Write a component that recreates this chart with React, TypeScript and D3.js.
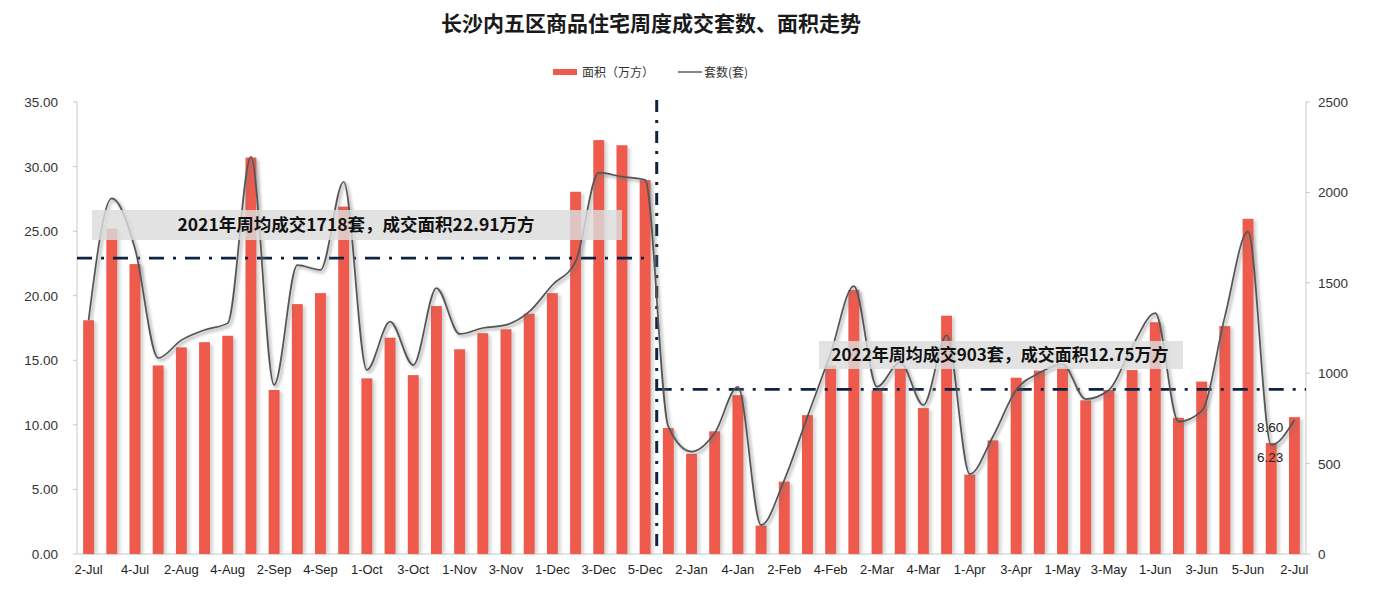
import React from "react";
import * as d3 from "d3";

// 53 weeks, labels shown every other week
const categories = [
  "2-Jul","3-Jul","4-Jul","1-Aug","2-Aug","3-Aug","4-Aug","1-Sep","2-Sep","3-Sep","4-Sep","5-Sep","1-Oct","2-Oct","3-Oct","4-Oct","1-Nov","2-Nov","3-Nov","4-Nov","1-Dec","2-Dec","3-Dec","4-Dec","5-Dec",
  "1-Jan","2-Jan","3-Jan","4-Jan","1-Feb","2-Feb","3-Feb","4-Feb","1-Mar","2-Mar","3-Mar","4-Mar","5-Mar","1-Apr","2-Apr","3-Apr","4-Apr","1-May","2-May","3-May","4-May","1-Jun","2-Jun","3-Jun","4-Jun","5-Jun","1-Jul","2-Jul"
];
const areaValues = [
  18.1, 25.2, 22.45, 14.6, 16.0, 16.4, 16.9, 30.7, 12.7, 19.35,
  20.2, 26.9, 13.6, 16.75, 13.85, 19.2, 15.85, 17.1, 17.4, 18.6,
  20.2, 28.05, 32.05, 31.65, 28.95, 9.75, 7.75, 9.5, 12.3, 2.2,
  5.6, 10.75, 14.6, 20.45, 12.65, 14.4, 11.3, 18.45, 6.15, 8.8,
  13.65, 14.2, 14.5, 11.9, 12.7, 14.25, 17.95, 10.55, 13.35, 17.65,
  25.95, 8.6, 10.6
];
const countValues = [
  1294, 1967, 1690, 1084, 1183, 1239, 1277, 2197, 935, 1598,
  1571, 2059, 1018, 1285, 1045, 1471, 1217, 1250, 1267, 1340,
  1488, 1617, 2109, 2087, 2069, 704, 566, 669, 925, 160,
  409, 760, 1110, 1482, 925, 1060, 824, 1210, 442, 650,
  907, 1001, 1050, 857, 907, 1147, 1332, 732, 790, 1313,
  1783, 603, 741
];
const leftTicks = [0, 5, 10, 15, 20, 25, 30, 35];
const rightTicks = [0, 500, 1000, 1500, 2000, 2500];
const avg2021Area = 22.91;
const avg2022Area = 12.75;
const splitIndex = 25; // first week of 2022
const title = "长沙内五区商品住宅周度成交套数、面积走势";
const legendArea = "面积（万方）";
const legendCount = "套数(套)";
const note2021 = "2021年周均成交1718套，成交面积22.91万方";
const note2022 = "2022年周均成交903套，成交面积12.75万方";
const extraLabels = ["8.60", "6.23"];

const W = 1386, H = 594;
const M = { left: 77, right: 1306, top: 102, bottom: 554 };
const CJK = "'Noto Sans CJK SC', 'Noto Sans', sans-serif";
const LAT = "'Liberation Sans', Arial, sans-serif";

export default function App() {
  const idx = categories.map((_, i) => String(i));
  const x = d3.scaleBand<string>().domain(idx).range([M.left, M.right]).paddingInner(0).paddingOuter(0);
  const yL = d3.scaleLinear().domain([0, 35]).range([M.bottom, M.top]);
  const yR = d3.scaleLinear().domain([0, 2500]).range([M.bottom, M.top]);
  const bw = x.bandwidth();
  const barW = bw * 0.47;
  const cx = (i: number) => (x(String(i)) as number) + bw / 2;

  const line = d3
    .line<number>()
    .x((_, i) => cx(i))
    .y((d) => yR(d))
    .curve(d3.curveMonotoneX);
  const linePath = line(countValues) || "";

  const splitX = x(String(splitIndex)) as number;
  const dash = "15 9 3 9";

  return (
    <svg
      width={W}
      height={H}
      viewBox={`0 0 ${W} ${H}`}
      style={{ position: "absolute", left: 0, top: 0, display: "block" }}
    >
      <defs>
        <filter id="blur" x="-20%" y="-20%" width="140%" height="140%">
          <feGaussianBlur stdDeviation="1.6" />
        </filter>
      </defs>
      <rect x={0} y={0} width={W} height={H} fill="#fff" />
      <text x={651} y={31} textAnchor="middle" fontFamily={CJK} fontWeight={700} fontSize={21} fill="#1a1a1a">
        {title}
      </text>
      {/* legend */}
      <rect x={553} y={69} width={24} height={6} fill="#EE5A4C" />
      <text x={582} y={77} fontFamily={CJK} fontSize={12} fill="#333">{legendArea}</text>
      <line x1={678} x2={702} y1={72} y2={72} stroke="#444" strokeWidth={1.3} />
      <text x={704} y={77} fontFamily={CJK} fontSize={12} fill="#333">{legendCount}</text>

      {/* axes */}
      <line x1={M.left} x2={M.left} y1={M.top} y2={M.bottom} stroke="#c8c8c8" />
      <line x1={M.right} x2={M.right} y1={M.top} y2={M.bottom} stroke="#c8c8c8" />
      <line x1={M.left} x2={M.right} y1={M.bottom} y2={M.bottom} stroke="#c8c8c8" />
      {leftTicks.map((t) => (
        <g key={"l" + t}>
          <line x1={M.left - 4} x2={M.left} y1={yL(t)} y2={yL(t)} stroke="#c8c8c8" />
          <text x={58} y={yL(t) + 5} textAnchor="end" fontFamily={LAT} fontSize={13.5} fill="#333">
            {t.toFixed(2)}
          </text>
        </g>
      ))}
      {rightTicks.map((t) => (
        <g key={"r" + t}>
          <line x1={M.right} x2={M.right + 4} y1={yR(t)} y2={yR(t)} stroke="#c8c8c8" />
          <text x={1318} y={yR(t) + 5} textAnchor="start" fontFamily={LAT} fontSize={13.5} fill="#333">
            {t}
          </text>
        </g>
      ))}
      {categories.map((c, i) =>
        i % 2 === 0 ? (
          <text key={"x" + i} x={cx(i)} y={574} textAnchor="middle" fontFamily={LAT} fontSize={13} fill="#222">
            {c}
          </text>
        ) : null
      )}

      {/* bar shadows */}
      <g filter="url(#blur)" opacity={0.35}>
        {areaValues.map((v, i) => (
          <rect key={"s" + i} x={cx(i) - barW / 2 + 3} y={yL(v) + 2} width={barW} height={M.bottom - yL(v) - 2} fill="#888" />
        ))}
      </g>
      {/* bars */}
      {areaValues.map((v, i) => (
        <rect key={"b" + i} x={cx(i) - barW / 2} y={yL(v)} width={barW} height={M.bottom - yL(v)} fill="#EE5A4C" />
      ))}

      {/* average lines */}
      <line x1={M.left} x2={648} y1={yL(avg2021Area)} y2={yL(avg2021Area)} stroke="#0f2441" strokeWidth={2.6} strokeDasharray={dash} />
      <line x1={splitX} x2={M.right} y1={yL(avg2022Area)} y2={yL(avg2022Area)} stroke="#0f2441" strokeWidth={2.6} strokeDasharray={dash} />
      <line x1={splitX} x2={splitX} y1={M.top - 2} y2={M.bottom} stroke="#0f2441" strokeWidth={3} strokeDasharray="12 8 3 8" />

      {/* count line */}
      <path d={linePath} transform="translate(2,2)" fill="none" stroke="#777" strokeWidth={3} opacity={0.45} filter="url(#blur)" />
      <path d={linePath} fill="none" stroke="#555" strokeWidth={1.7} />

      {/* notes */}
      <rect x={92} y={210} width={530} height={30} fill="#dcdcdc" opacity={0.82} />
      <text x={356} y={231} textAnchor="middle" fontFamily={CJK} fontWeight={700} fontSize={17.5} fill="#111">
        {note2021}
      </text>
      <rect x={819} y={341} width={364} height={28} fill="#dcdcdc" opacity={0.82} />
      <text x={1000} y={361} textAnchor="middle" fontFamily={CJK} fontWeight={700} fontSize={17} fill="#111">
        {note2022}
      </text>
      <text x={1257} y={432} fontFamily={LAT} fontSize={13.5} fill="#222">{extraLabels[0]}</text>
      <text x={1257} y={462} fontFamily={LAT} fontSize={13.5} fill="#222">{extraLabels[1]}</text>
    </svg>
  );
}
